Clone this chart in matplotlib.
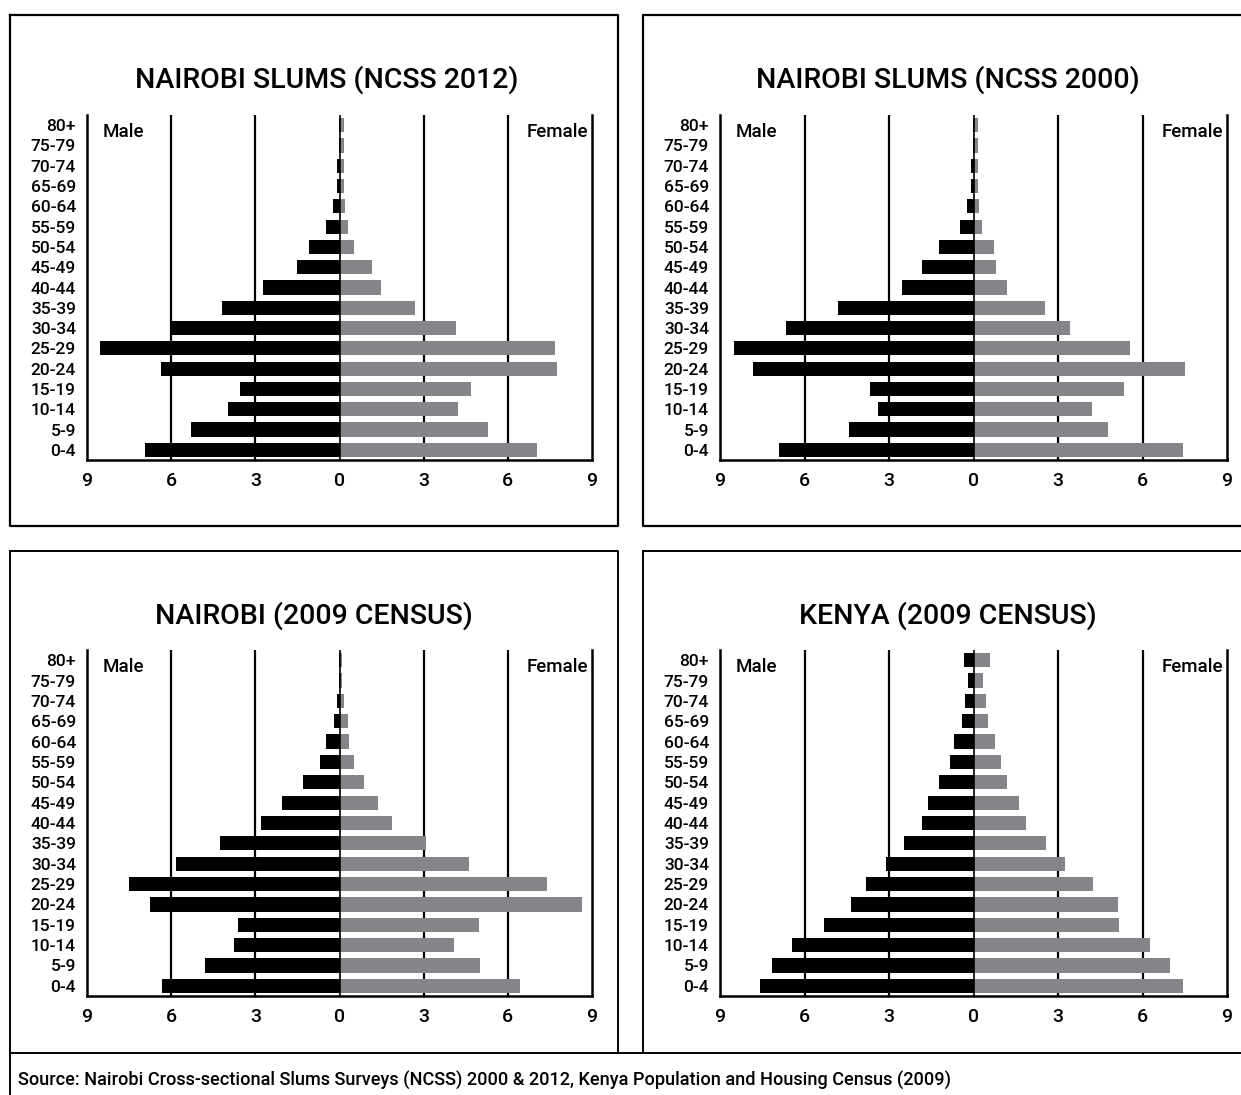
import matplotlib
matplotlib.use("Agg")
import matplotlib.pyplot as plt
from matplotlib.lines import Line2D
import numpy as np

plt.rcParams['font.family'] = ['Roboto', 'DejaVu Sans']
plt.rcParams['font.weight'] = 'medium'

age_groups = ["0-4", "5-9", "10-14", "15-19", "20-24", "25-29", "30-34", "35-39",
              "40-44", "45-49", "50-54", "55-59", "60-64", "65-69", "70-74", "75-79", "80+"]

titles = ["NAIROBI SLUMS (NCSS 2012)", "NAIROBI SLUMS (NCSS 2000)",
          "NAIROBI (2009 CENSUS)", "KENYA (2009 CENSUS)"]

# percentages, ordered 0-4 ... 80+
male_ncss2012 = [6.92, 5.31, 3.96, 3.54, 6.38, 8.52, 5.96, 4.18, 2.72, 1.51, 1.08, 0.48, 0.23, 0.08, 0.08, 0.02, 0.02]
female_ncss2012 = [7.04, 5.30, 4.23, 4.69, 7.76, 7.69, 4.15, 2.70, 1.49, 1.17, 0.52, 0.30, 0.20, 0.15, 0.15, 0.15, 0.15]

male_ncss2000 = [6.91, 4.42, 3.39, 3.67, 7.83, 8.50, 6.66, 4.81, 2.53, 1.83, 1.22, 0.47, 0.22, 0.08, 0.08, 0.02, 0.02]
female_ncss2000 = [7.45, 4.79, 4.22, 5.36, 7.52, 5.57, 3.41, 2.55, 1.19, 0.80, 0.73, 0.30, 0.21, 0.17, 0.17, 0.17, 0.17]

male_nairobi2009 = [6.31, 4.79, 3.75, 3.61, 6.75, 7.49, 5.82, 4.25, 2.79, 2.04, 1.30, 0.69, 0.48, 0.18, 0.08, 0.02, 0.02]
female_nairobi2009 = [6.44, 5.01, 4.08, 4.97, 8.65, 7.39, 4.62, 3.08, 1.87, 1.38, 0.89, 0.52, 0.35, 0.31, 0.15, 0.08, 0.08]

male_kenya2009 = [7.58, 7.16, 6.44, 5.30, 4.35, 3.81, 3.10, 2.47, 1.83, 1.61, 1.22, 0.83, 0.69, 0.40, 0.29, 0.19, 0.33]
female_kenya2009 = [7.45, 6.99, 6.25, 5.18, 5.14, 4.25, 3.25, 2.59, 1.87, 1.62, 1.19, 0.96, 0.78, 0.53, 0.46, 0.35, 0.60]

tick_vals = [-9, -6, -3, 0, 3, 6, 9]
tick_labels = ["9", "6", "3", "0", "3", "6", "9"]

source_text = ("Source: Nairobi Cross-sectional Slums Surveys (NCSS) 2000 & 2012, "
               "Kenya Population and Housing Census (2009)")

W, H = 1241, 1095
fig = plt.figure(figsize=(W / 100, H / 100), dpi=100)

def fx(px):
    return px / W

def fy(py):
    return 1 - py / H

def fline(xs, ys, lw=2.0):
    fig.add_artist(Line2D([fx(x) for x in xs], [fy(y) for y in ys],
                          color='black', lw=lw, solid_capstyle='projecting'))

# panel boxes
fline([10, 10, 618, 618, 10], [15, 526, 526, 15, 15], lw=1.6)
fline([1245, 643, 643, 1245], [15, 15, 526, 526], lw=1.6)
fline([10, 10], [551, 1053], lw=1.4)
fline([10, 618, 618], [551, 551, 1053], lw=1.4)
fline([643, 643], [1053, 551], lw=1.4)
fline([643, 1245], [551, 551], lw=1.4)
fline([1245, 10, 10], [1053, 1053, 1100], lw=1.4)

# axes rectangles (px): left, top, right, bottom
axes_px = [(87, 115, 592, 460), (720, 115, 1227, 460),
           (87, 650, 592, 996), (720, 650, 1227, 996)]
title_pos = [(327, 80), (948, 80), (314, 616), (948, 616)]

data = [(male_ncss2012, female_ncss2012), (male_ncss2000, female_ncss2000),
        (male_nairobi2009, female_nairobi2009), (male_kenya2009, female_kenya2009)]

y = np.arange(len(age_groups))
for i, (l, t, r, b) in enumerate(axes_px):
    ax = fig.add_axes([fx(l), fy(b), fx(r - l), (b - t) / H])
    male, female = data[i]
    ax.barh(y, [-v for v in male], height=0.7, color='black', zorder=3)
    ax.barh(y, female, height=0.7, color='#848589', zorder=3)
    for xv in [-6, -3, 3, 6]:
        ax.axvline(xv, color='black', lw=1.6, zorder=1)
    ax.axvline(0, color='black', lw=1.2, zorder=4)
    ax.set_xlim(-9, 9)
    ax.set_ylim(-0.5, len(age_groups) - 0.5)
    ax.set_yticks(y)
    ax.set_yticklabels(age_groups, fontsize=12.5, fontweight='medium')
    ax.set_xticks(tick_vals)
    ax.set_xticklabels(tick_labels, fontsize=14, fontweight='medium')
    ax.tick_params(axis='both', length=0)
    ax.tick_params(axis='x', pad=9)
    ax.tick_params(axis='y', pad=8)
    for s in ['left', 'right', 'bottom']:
        ax.spines[s].set_linewidth(1.8)
    ax.spines['top'].set_visible(False)
    ax.text(0.03, 0.978, "Male", transform=ax.transAxes, fontsize=13.5,
            ha='left', va='top', fontweight='medium')
    ax.text(0.993, 0.978, "Female", transform=ax.transAxes, fontsize=13.5,
            ha='right', va='top', fontweight='medium')
    tx, ty = title_pos[i]
    fig.text(fx(tx), fy(ty), titles[i], fontsize=20.5, ha='center', va='center',
             fontweight='medium')

fig.text(fx(18), fy(1081), source_text, fontsize=13.1, ha='left', va='center',
         fontweight='medium')

fig.savefig("out.png", dpi=100, facecolor='white')
